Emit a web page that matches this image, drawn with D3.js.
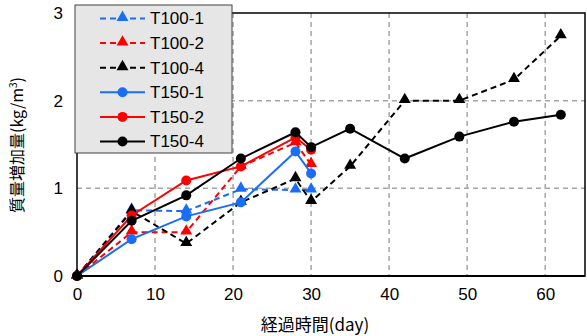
<!DOCTYPE html>
<html>
<head>
<meta charset="utf-8">
<script src="https://cdn.jsdelivr.net/npm/d3@7"></script>
<style>
  body { margin: 0; background: #fff; }
  svg { display: block; font-family: "Liberation Sans", Arial, sans-serif; }
</style>
</head>
<body>
<div id="chart"></div>
<script>
// series data (day, kg/m3)
const seriesNames = ['T100-1', 'T100-2', 'T100-4', 'T150-1', 'T150-2', 'T150-4'];
const t100_1 = [[0, 0], [7, 0.75], [14, 0.74], [21, 0.99], [28, 0.98], [30, 0.98]];
const t100_2 = [[0, 0], [7, 0.5], [14, 0.5], [21, 1.25], [28, 1.52], [30, 1.27]];
const t100_4 = [[0, 0], [7, 0.74], [14, 0.37], [21, 0.84], [28, 1.11], [30, 0.85], [35, 1.25], [42, 2.0], [49, 2.0], [56, 2.24], [62, 2.74]];
const t150_1 = [[0, 0], [7, 0.42], [14, 0.68], [21, 0.84], [28, 1.42], [30, 1.17]];
const t150_2 = [[0, 0], [7, 0.69], [14, 1.09], [21, 1.25], [28, 1.58], [30, 1.44]];
const t150_4 = [[0, 0], [7, 0.63], [14, 0.92], [21, 1.34], [28, 1.64], [30, 1.47], [35, 1.68], [42, 1.34], [49, 1.59], [56, 1.76], [62, 1.84]];
const xTicks = [0, 10, 20, 30, 40, 50, 60];
const yTicks = [0, 1, 2, 3];

const styles = [
  { data: t100_1, color: '#1a6ef5', dashed: true, marker: 'triangle' },
  { data: t100_2, color: '#ff0000', dashed: true, marker: 'triangle' },
  { data: t100_4, color: '#000000', dashed: true, marker: 'triangle' },
  { data: t150_1, color: '#1a6ef5', dashed: false, marker: 'circle' },
  { data: t150_2, color: '#ff0000', dashed: false, marker: 'circle' },
  { data: t150_4, color: '#000000', dashed: false, marker: 'circle' },
];

const width = 587, height = 336;
const margin = { top: 13, right: 2, bottom: 60, left: 77 };
const w = width - margin.left - margin.right;
const h = height - margin.top - margin.bottom;

const svg = d3.select('#chart').append('svg')
  .attr('width', width)
  .attr('height', height);

const g = svg.append('g').attr('transform', `translate(${margin.left},${margin.top})`);

const x = d3.scaleLinear().domain([0, 65.1]).range([0, w]);
const y = d3.scaleLinear().domain([0, 3]).range([h, 0]);

// grid
g.selectAll('.vgrid')
  .data(xTicks.filter(d => d > 0))
  .join('line')
  .attr('x1', d => x(d)).attr('x2', d => x(d))
  .attr('y1', 0).attr('y2', h)
  .attr('stroke', '#a6a6a6').attr('stroke-width', 1.5)
  .attr('stroke-dasharray', '5,4');

g.selectAll('.hgrid')
  .data(yTicks.filter(d => d > 0 && d < 3))
  .join('line')
  .attr('x1', 0).attr('x2', w)
  .attr('y1', d => y(d)).attr('y2', d => y(d))
  .attr('stroke', '#a6a6a6').attr('stroke-width', 1.5)
  .attr('stroke-dasharray', '5,4');

// frame
g.append('rect')
  .attr('width', w).attr('height', h)
  .attr('fill', 'none').attr('stroke', '#000').attr('stroke-width', 1.5);
g.append('line')
  .attr('x1', 0).attr('x2', w).attr('y1', h).attr('y2', h)
  .attr('stroke', '#000').attr('stroke-width', 2);

// axes labels
const xAxis = d3.axisBottom(x).tickValues(xTicks).tickSize(0).tickPadding(12).tickFormat(d3.format('d'));
g.append('g').attr('transform', `translate(0,${h})`).call(xAxis)
  .attr('font-family', null).attr('font-size', null)
  .call(a => a.select('.domain').remove())
  .selectAll('text').attr('font-size', 17).attr('fill', '#000');

const yAxis = d3.axisLeft(y).tickValues(yTicks).tickSize(0).tickPadding(14).tickFormat(d3.format('d'));
g.append('g').call(yAxis)
  .attr('font-family', null).attr('font-size', null)
  .call(a => a.select('.domain').remove())
  .selectAll('text').attr('font-size', 17).attr('fill', '#000');

const triangle = d3.symbol().type(d3.symbolTriangle).size(62);

const line = d3.line().x(d => x(d[0])).y(d => y(d[1]));

styles.forEach(s => {
  g.append('path')
    .datum(s.data)
    .attr('d', line)
    .attr('fill', 'none')
    .attr('stroke', s.color)
    .attr('stroke-width', 2)
    .attr('stroke-dasharray', s.dashed ? '6,4' : null);

  if (s.marker === 'circle') {
    g.selectAll(null).data(s.data).join('circle')
      .attr('cx', d => x(d[0])).attr('cy', d => y(d[1]))
      .attr('r', 5).attr('fill', s.color);
  } else {
    g.selectAll(null).data(s.data).join('path')
      .attr('d', triangle)
      .attr('transform', d => `translate(${x(d[0])},${y(d[1]) - 1})`)
      .attr('fill', s.color);
  }
});

// legend
const legend = svg.append('g').attr('transform', 'translate(75,5)');
legend.append('rect')
  .attr('width', 157).attr('height', 148)
  .attr('fill', '#e6e6e6').attr('stroke', '#404040').attr('stroke-width', 1);

styles.forEach((s, i) => {
  const ly = 13.5 + i * 24.6;
  const item = legend.append('g').attr('transform', `translate(0,${ly})`);
  item.append('line')
    .attr('x1', 25).attr('x2', 70)
    .attr('stroke', s.color).attr('stroke-width', 2)
    .attr('stroke-dasharray', s.dashed ? '6,4' : null);
  if (s.marker === 'circle') {
    item.append('circle').attr('cx', 47.5).attr('r', 5).attr('fill', s.color);
  } else {
    item.append('path').attr('d', triangle).attr('transform', 'translate(47.5,-1)').attr('fill', s.color);
  }
  item.append('text')
    .attr('x', 75).attr('dy', '0.35em')
    .attr('font-size', 17)
    .text(seriesNames[i]);
});

// axis titles
svg.append('text')
  .attr('x', margin.left + 238).attr('y', 331)
  .attr('text-anchor', 'middle')
  .attr('font-size', 17)
  .attr('font-family', '"Noto Sans CJK JP", "Liberation Sans", sans-serif')
  .text('経過時間(day)');

const yTitle = svg.append('text')
  .attr('transform', 'translate(23,145) rotate(-90)')
  .attr('text-anchor', 'middle')
  .attr('font-size', 16)
  .attr('font-family', '"Noto Sans CJK JP", "Liberation Sans", sans-serif');
yTitle.append('tspan').text('質量増加量(kg/m');
yTitle.append('tspan').attr('font-size', 10).attr('dy', -6).text('3');
yTitle.append('tspan').attr('dy', 6).text(')');
</script>
</body>
</html>
